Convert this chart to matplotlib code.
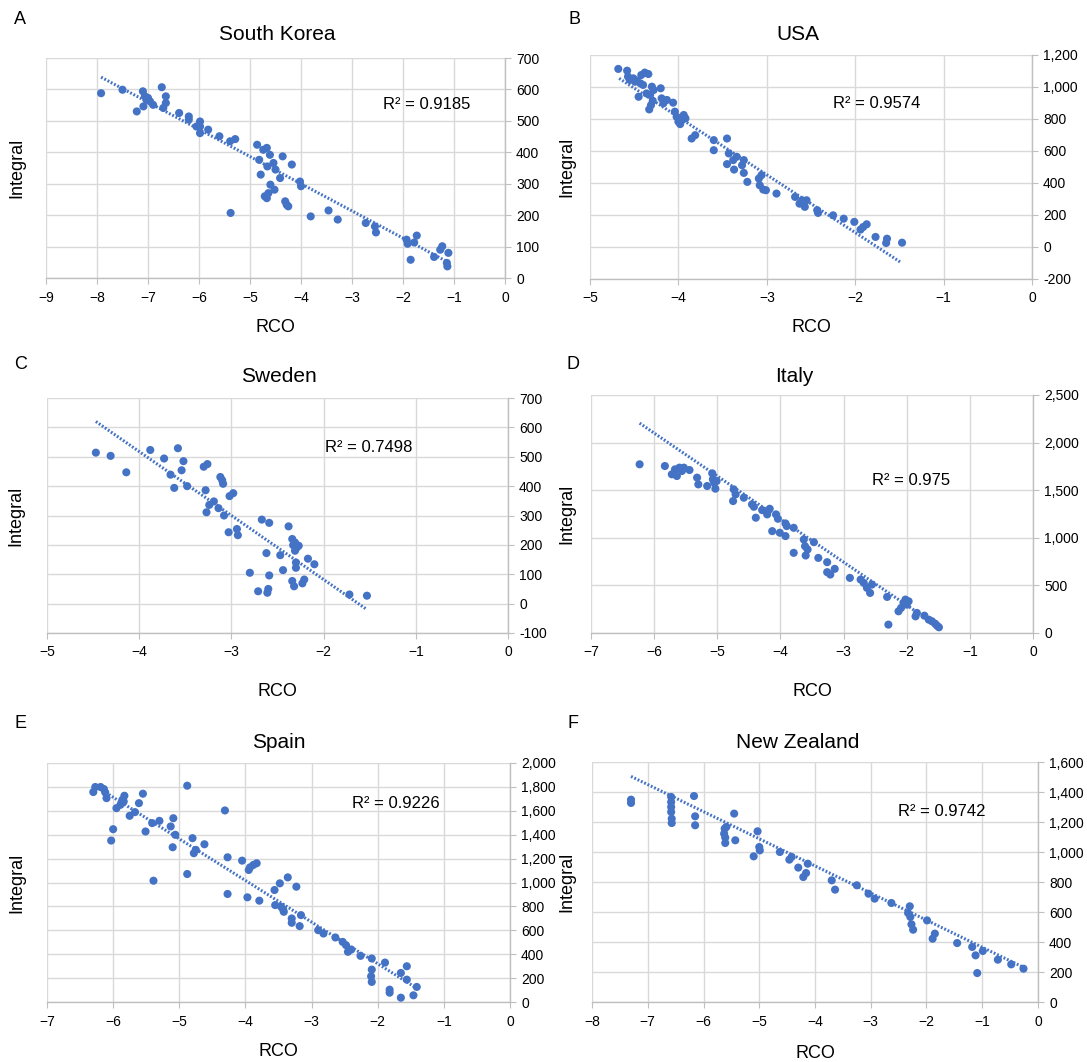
import matplotlib
matplotlib.use("Agg")
import matplotlib.pyplot as plt
import numpy as np

plt.rcParams['font.family'] = ['Liberation Sans', 'DejaVu Sans']

# ---- data (RCO, Integral) ----
korea_x = [-7.92, -7.50, -7.22, -7.10, -7.09, -7.06, -7.03, -7.00, -6.96, -6.90, -6.73, -6.70,
           -6.65, -6.65, -6.39, -6.20, -6.20, -5.98, -5.98, -6.05, -5.98, -5.82, -5.60, -5.39,
           -5.29, -5.38, -4.86, -4.82, -4.79, -4.74, -4.67, -4.61, -4.66, -4.60, -4.71, -4.67,
           -4.64, -4.54, -4.50, -4.52, -4.41, -4.36, -4.31, -4.28, -4.25, -4.18, -4.02, -4.00,
           -3.81, -3.46, -3.28, -2.73, -2.55, -2.53, -1.93, -1.91, -1.78, -1.73, -1.85, -1.39,
           -1.27, -1.23, -1.11, -1.14, -1.13]
korea_y = [588, 599, 530, 594, 546, 578, 567, 573, 562, 551, 607, 541,
           578, 557, 525, 514, 504, 498, 482, 482, 461, 472, 451, 435,
           442, 207, 424, 376, 329, 408, 414, 392, 355, 297, 260, 254,
           270, 366, 345, 281, 318, 387, 244, 233, 228, 361, 307, 292,
           196, 215, 186, 175, 164, 145, 122, 109, 113, 135, 58, 67,
           90, 101, 80, 48, 37]

usa_x = [-4.68, -4.58, -4.57, -4.55, -4.51, -4.49, -4.47, -4.43, -4.40, -4.42, -4.38, -4.34,
         -4.45, -4.36, -4.32, -4.30, -4.28, -4.33, -4.31, -4.29, -4.20, -4.19, -4.17, -4.13,
         -4.06, -4.04, -4.02, -4.00, -3.98, -3.94, -3.92, -3.96, -3.85, -3.81, -3.60, -3.60,
         -3.45, -3.43, -3.45, -3.38, -3.37, -3.34, -3.28, -3.26, -3.22, -3.26, -3.09, -3.08,
         -3.06, -3.04, -3.01, -2.89, -2.68, -2.63, -2.60, -2.57, -2.55, -2.43, -2.42, -2.25,
         -2.13, -2.01, -1.94, -1.91, -1.87, -1.77, -1.64, -1.65, -1.47]
usa_y = [1113, 1102, 1065, 1044, 1054, 1033, 1040, 1023, 1013, 1075, 1090, 1081,
         939, 960, 950, 1002, 981, 860, 887, 914, 992, 929, 898, 919,
         902, 846, 814, 783, 768, 825, 804, 793, 678, 699, 668, 605,
         678, 585, 518, 543, 484, 564, 511, 463, 407, 543, 428, 386,
         449, 359, 355, 334, 313, 271, 292, 251, 292, 230, 213, 198,
         177, 157, 109, 125, 142, 63, 52, 25, 27]

sweden_x = [-4.47, -4.31, -4.14, -3.88, -3.73, -3.66, -3.62, -3.58, -3.54, -3.52, -3.48, -3.30,
            -3.26, -3.28, -3.27, -3.24, -3.19, -3.14, -3.12, -3.10, -3.09, -3.08, -3.02, -2.98,
            -3.03, -2.94, -2.93, -2.80, -2.71, -2.67, -2.62, -2.59, -2.59, -2.60, -2.61, -2.47,
            -2.44, -2.38, -2.34, -2.33, -2.31, -2.29, -2.27, -2.31, -2.30, -2.30, -2.34, -2.32,
            -2.23, -2.21, -2.17, -2.10, -1.72, -1.53]
sweden_y = [514, 503, 447, 523, 494, 439, 394, 529, 454, 485, 400, 466,
            475, 386, 311, 336, 348, 325, 431, 420, 408, 300, 366, 376,
            243, 254, 233, 105, 42, 286, 172, 275, 96, 50, 37, 165,
            114, 263, 220, 199, 208, 191, 197, 180, 140, 122, 77, 59,
            69, 82, 153, 134, 31, 27]

italy_x = [-6.23, -5.83, -5.72, -5.67, -5.64, -5.60, -5.56, -5.53, -5.44, -5.32, -5.30, -5.16,
           -5.08, -5.07, -5.05, -5.03, -5.01, -4.74, -4.71, -4.75, -4.58, -4.45, -4.42, -4.39,
           -4.29, -4.21, -4.17, -4.13, -4.07, -4.04, -4.01, -3.92, -3.92, -3.90, -3.79, -3.79,
           -3.63, -3.61, -3.60, -3.57, -3.47, -3.40, -3.26, -3.26, -3.21, -3.14, -2.90, -2.73,
           -2.68, -2.63, -2.58, -2.55, -2.31, -2.29, -2.13, -2.09, -2.05, -2.02, -2.00, -1.97,
           -1.86, -1.84, -1.72, -1.65, -1.60, -1.55, -1.52, -1.49]
italy_y = [1772, 1754, 1667, 1719, 1649, 1737, 1702, 1737, 1712, 1632, 1561, 1544,
           1677, 1614, 1579, 1516, 1596, 1509, 1456, 1386, 1421, 1351, 1326, 1211,
           1291, 1246, 1305, 1070, 1246, 1200, 1053, 1018, 1151, 1123, 842, 1105,
           982, 912, 814, 877, 954, 789, 744, 639, 614, 674, 579, 561,
           526, 474, 421, 509, 379, 88, 228, 263, 316, 351, 298, 333,
           175, 211, 182, 140, 123, 98, 77, 60]

spain_x = [-6.30, -6.27, -6.19, -6.14, -6.12, -6.10, -6.00, -6.03, -5.95, -5.89, -5.84, -5.83,
           -5.86, -5.75, -5.67, -5.61, -5.55, -5.51, -5.39, -5.41, -5.30, -5.13, -5.09, -5.10,
           -5.06, -4.88, -4.88, -4.80, -4.78, -4.75, -4.62, -4.31, -4.27, -4.27, -4.05, -3.97,
           -3.95, -3.93, -3.88, -3.83, -3.79, -3.56, -3.55, -3.48, -3.46, -3.42, -3.43, -3.36,
           -3.30, -3.30, -3.23, -3.18, -3.16, -2.90, -2.82, -2.64, -2.53, -2.48, -2.45, -2.40,
           -2.26, -2.09, -2.09, -2.10, -2.09, -1.89, -1.82, -1.82, -1.65, -1.65, -1.56, -1.56,
           -1.46, -1.41]
spain_y = [1757, 1799, 1799, 1782, 1754, 1706, 1446, 1351, 1622, 1650, 1678, 1726,
           1692, 1558, 1589, 1664, 1743, 1427, 1015, 1497, 1516, 1469, 1538, 1295,
           1399, 1810, 1071, 1371, 1245, 1273, 1320, 1603, 904, 1211, 1183, 876,
           1105, 1127, 1147, 1161, 848, 937, 811, 993, 797, 755, 775, 1043,
           699, 663, 965, 635, 727, 601, 573, 540, 503, 476, 420, 439,
           386, 364, 271, 215, 168, 330, 103, 78, 243, 36, 299, 187,
           56, 126]

nz_x = [-7.30, -7.30, -6.58, -6.58, -6.58, -6.58, -6.57, -6.57, -6.17, -6.15, -6.15, -5.62,
        -5.63, -5.61, -5.61, -5.59, -5.45, -5.43, -5.10, -5.03, -5.00, -4.99, -4.63, -4.46,
        -4.42, -4.30, -4.21, -4.16, -4.13, -3.70, -3.64, -3.25, -3.04, -2.93, -2.63, -2.33,
        -2.30, -2.29, -2.27, -2.24, -1.99, -1.89, -1.85, -1.45, -1.18, -1.12, -1.09, -0.99,
        -0.72, -0.48, -0.26]
nz_y = [1349, 1327, 1367, 1333, 1300, 1267, 1222, 1193, 1373, 1238, 1178, 1156,
        1122, 1096, 1060, 1167, 1256, 1078, 971, 1138, 1033, 1011, 1000, 949,
        967, 896, 833, 860, 922, 811, 749, 778, 722, 689, 660, 593,
        638, 567, 518, 482, 544, 422, 456, 393, 367, 311, 193, 340,
        282, 251, 222]

# linear trendline ends as drawn in the reference: (x0, y0, x1, y1)
trend_korea = [-7.92, 639, -1.11, 50]
trend_usa = [-4.67, 1054, -1.49, -94]
trend_sweden = [-4.47, 620, -1.54, -18]
trend_italy = [-6.23, 2204, -1.47, 53]
trend_spain = [-6.30, 1818, -1.41, 115]
trend_nz = [-7.30, 1504, -0.21, 222]

titles = ["South Korea", "USA", "Sweden", "Italy", "Spain", "New Zealand"]
letters = ["A", "B", "C", "D", "E", "F"]
r2_labels = ["R² = 0.9185", "R² = 0.9574", "R² = 0.7498", "R² = 0.975", "R² = 0.9226", "R² = 0.9742"]
r2_pos = [(-2.39, 553), (-2.25, 900), (-1.98, 533), (-2.55, 1597), (-2.39, 1665), (-2.51, 1273)]
xlims = [(-9, 0), (-5, 0), (-5, 0), (-7, 0), (-7, 0), (-8, 0)]
ylims = [(0, 700), (-200, 1200), (-100, 700), (0, 2500), (0, 2000), (0, 1600)]
ysteps = [100, 200, 100, 500, 200, 200]
all_x = [korea_x, usa_x, sweden_x, italy_x, spain_x, nz_x]
all_y = [korea_y, usa_y, sweden_y, italy_y, spain_y, nz_y]
trends = [trend_korea, trend_usa, trend_sweden, trend_italy, trend_spain, trend_nz]

W, H = 1087, 1062
BLUE = '#4472C4'
GRID = '#D9D9D9'
AXIS = '#BFBFBF'

# axes boxes in pixels: left, top, right, bottom
boxes = [(46, 58, 505, 278), (590, 55, 1032, 279),
         (47, 398, 508, 633), (591, 395, 1033, 633),
         (47, 763, 510, 1002), (592, 762, 1038, 1002)]
ylabel_x = [-0.046, -0.034, -0.048, -0.036, -0.047, -0.038]
xlabel_y = [-0.186, -0.179, -0.213, -0.21, -0.17, -0.18]
title_xy = [(277, 35), (798, 35), (279, 377), (794, 377), (279, 743), (798, 743)]
letter_xy = [(20, 19), (575, 19), (21, 365), (573, 365), (21, 723), (573, 723)]

fig = plt.figure(figsize=(W / 100, H / 100), dpi=100)

for i in range(6):
    l, t, r, b = boxes[i]
    ax = fig.add_axes([l / W, 1 - b / H, (r - l) / W, (b - t) / H])

    # dotted linear trendline, then the points
    x0, y0, x1, y1 = trends[i]
    ax.plot([x0, x1], [y0, y1], color=BLUE, linewidth=2.2, linestyle=(0, (0.6, 0.6)), zorder=2)
    ax.scatter(all_x[i], all_y[i], s=34, color=BLUE, edgecolors='none', zorder=3)

    ax.set_xlim(*xlims[i])
    ax.set_ylim(*ylims[i])
    ax.set_xticks(np.arange(xlims[i][0], xlims[i][1] + 1, 1))
    ax.set_yticks(np.arange(ylims[i][0], ylims[i][1] + 1, ysteps[i]))
    ax.yaxis.set_major_formatter(matplotlib.ticker.FuncFormatter(lambda v, p: f"{v:,.0f}"))
    ax.yaxis.tick_right()
    ax.grid(True, color=GRID, linewidth=1.0)
    ax.set_axisbelow(True)
    for s in ['left', 'top']:
        ax.spines[s].set_visible(False)
    for s in ['right', 'bottom']:
        ax.spines[s].set_color(AXIS)
        ax.spines[s].set_linewidth(1.0)
    ax.tick_params(axis='y', direction='out', length=4, color=AXIS, labelsize=10, pad=4)
    ax.tick_params(axis='x', direction='out', length=4, color=AXIS, labelsize=10, pad=5)

    ax.text(r2_pos[i][0], r2_pos[i][1], r2_labels[i], fontsize=12, ha='left', va='center')

    ax.set_ylabel("Integral", fontsize=13)
    ax.yaxis.set_label_position('left')
    ax.yaxis.set_label_coords(ylabel_x[i], 0.5)
    ax.set_xlabel("RCO", fontsize=13)
    ax.xaxis.set_label_coords(0.5, xlabel_y[i])

    fig.text(title_xy[i][0] / W, 1 - title_xy[i][1] / H, titles[i], fontsize=15, ha='center', va='center')
    fig.text(letter_xy[i][0] / W, 1 - letter_xy[i][1] / H, letters[i], fontsize=13, ha='center', va='center')

fig.savefig("out.png", dpi=100)
